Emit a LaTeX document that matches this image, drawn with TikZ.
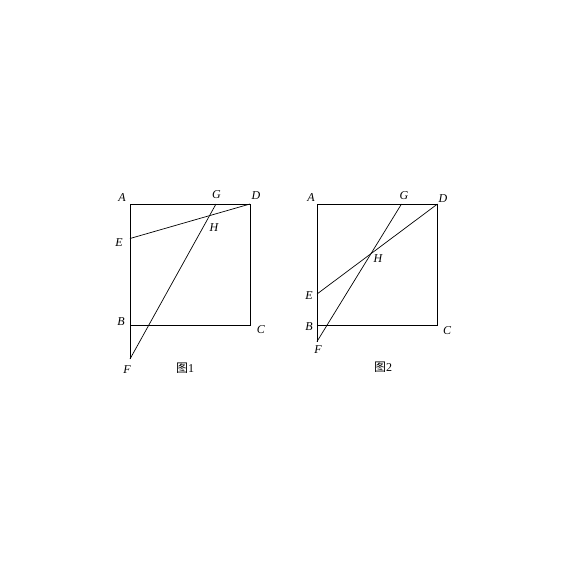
\documentclass[tikz,border=0pt]{standalone}
\usepackage{fontspec}
\setmainfont{Liberation Serif}
\newfontfamily\cjk{Noto Sans CJK SC}
\usetikzlibrary{positioning, calc}
\tikzset{
  every picture/.style={line width=0.7pt},
  edge/.style={draw=black, line width=0.7pt},
  pt/.style={font=\fontsize{12}{14}\selectfont\itshape, inner sep=1pt},
  figcap/.style={font=\fontsize{12}{14}\selectfont, inner sep=1pt},
}
\begin{document}
\begin{tikzpicture}[x=1pt, y=-1pt]
  \useasboundingbox (0,0) rectangle (566,566);
  % figure 1
  \coordinate (A1) at (130,204);
  \coordinate (D1) at (250,204);
  \coordinate (B1) at (130,325);
  \coordinate (C1) at (250,325);
  \coordinate (E1) at (130,238.5);
  \coordinate (G1) at (216,204);
  \coordinate (F1) at (130,359);
  \coordinate (H1) at (intersection of E1--D1 and G1--F1);
  \draw[edge] (A1) -- (D1) -- (C1) -- (B1) -- (F1);
  \draw[edge] (A1) -- (B1);
  \draw[edge] (E1) -- (D1);
  \draw[edge] (G1) -- (F1);
  \node[pt] (lA1) at (122,198) {A};
  \node[pt] (lG1) at (216.5,195) {G};
  \node[pt] (lD1) at (256,196) {D};
  \node[pt] (lH1) at (214,228) {H};
  \node[pt] (lE1) at (119,243) {E};
  \node[pt] (lB1) at (121,322) {B};
  \node[pt] (lC1) at (261,330) {C};
  \node[pt] (lF1) at (127,370) {F};
  \node[figcap] (cap1) at (185,368) {{\cjk 图}1};
  % figure 2
  \coordinate (A2) at (317,204);
  \coordinate (D2) at (437.5,204);
  \coordinate (B2) at (317,325);
  \coordinate (C2) at (437.5,325);
  \coordinate (E2) at (317,294);
  \coordinate (G2) at (401.5,204);
  \coordinate (F2) at (317,341.5);
  \coordinate (H2) at (intersection of E2--D2 and G2--F2);
  \draw[edge] (A2) -- (D2) -- (C2) -- (B2) -- (F2);
  \draw[edge] (A2) -- (B2);
  \draw[edge] (E2) -- (D2);
  \draw[edge] (G2) -- (F2);
  \node[pt] (lA2) at (311,198) {A};
  \node[pt] (lG2) at (404,196) {G};
  \node[pt] (lD2) at (443,199) {D};
  \node[pt] (lH2) at (378,259) {H};
  \node[pt] (lE2) at (309,296) {E};
  \node[pt] (lB2) at (309,327) {B};
  \node[pt] (lC2) at (447,331) {C};
  \node[pt] (lF2) at (318,350) {F};
  \node[figcap] (cap2) at (383,367) {{\cjk 图}2};
\end{tikzpicture}
\end{document}
